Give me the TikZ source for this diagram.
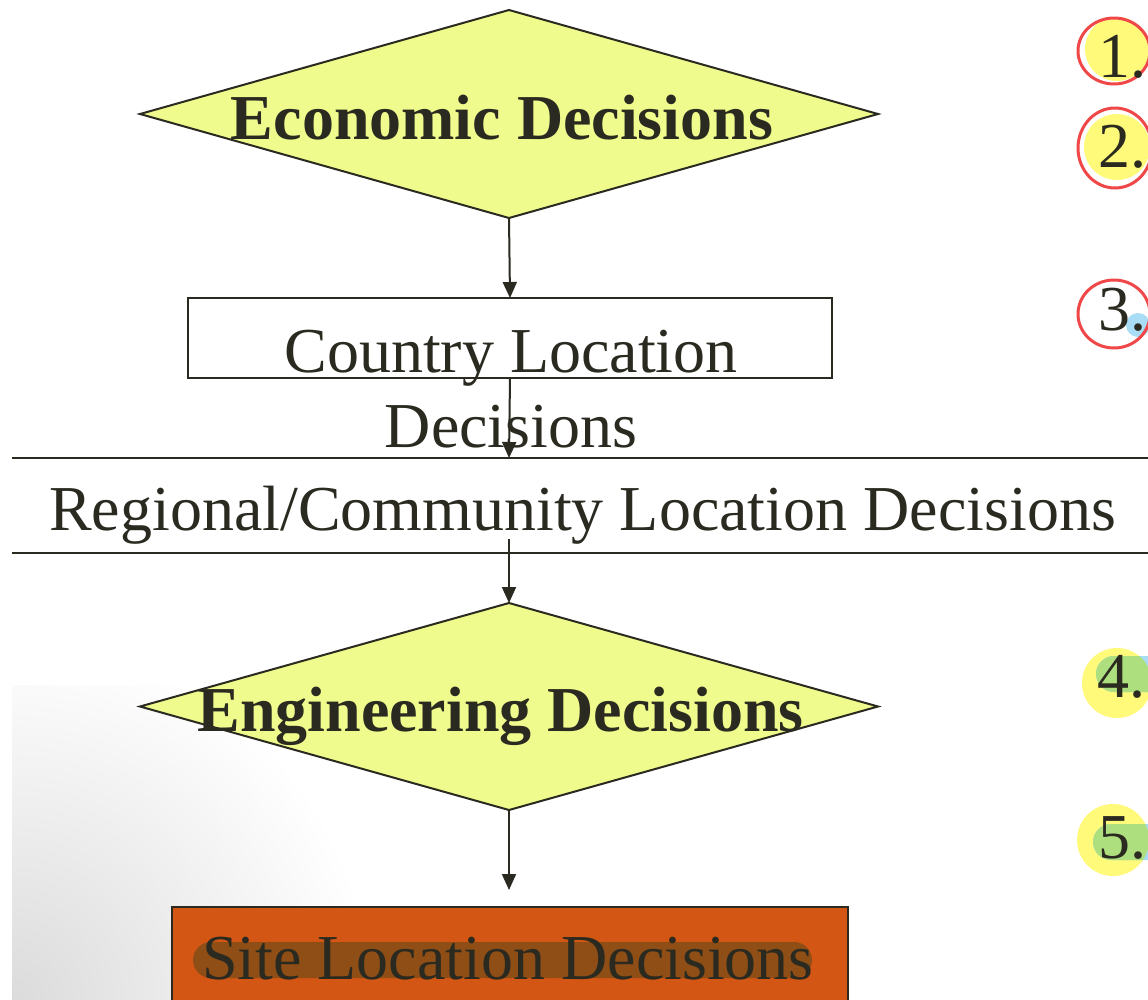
\documentclass[tikz,border=0pt]{standalone}
\usepackage{fontspec}
\setmainfont{Liberation Serif}
\usetikzlibrary{arrows.meta,shapes.geometric}

\definecolor{ink}{HTML}{2B2A20}
\definecolor{dfill}{HTML}{EFFB8D}
\definecolor{siteorange}{HTML}{D35614}
\definecolor{sitebar}{HTML}{8E4E16}
\definecolor{mkyellow}{HTML}{FFFA7A}
\definecolor{mkred}{HTML}{F04848}
\definecolor{mkblue}{HTML}{A8DDF5}
\definecolor{mkgreen}{HTML}{AEDF7E}

\begin{document}
\begin{tikzpicture}[x=1pt,y=-1pt,
  every node/.style={text=ink, inner sep=0pt, outer sep=0pt},
  big/.style={font=\fontsize{64}{75}\selectfont, anchor=base},
  bigbold/.style={font=\fontsize{64}{75}\selectfont\bfseries, anchor=base},
  marknum/.style={font=\fontsize{64}{75}\selectfont, anchor=base west},
  decision/.style={diamond, draw=ink, line width=2pt, fill=dfill,
    minimum width=738pt, minimum height=208pt},
  plainbox/.style={rectangle, draw=ink, line width=2pt, fill=white,
    minimum width=644pt, minimum height=80pt},
  sitebox/.style={rectangle, draw=ink, line width=2.5pt, fill=siteorange,
    minimum width=676pt, minimum height=110pt},
  flow/.style={draw=ink, line width=2pt, -{Triangle[width=14pt,length=16pt]}},
  band/.style={draw=ink, line width=2.5pt},
  ring/.style={draw=mkred, line width=3pt},
]
\useasboundingbox (0,0) rectangle (1148,999);
\fill[white] (0,0) rectangle (1148,999);

% soft grey corner shading
\begin{scope}
  \clip (12,685) rectangle (1148,999);
  \shade[inner color=black!14, outer color=white] (12,999) circle (360);
\end{scope}

% decisions
\node[decision] (econ) at (509,114) {};
\node[bigbold] (econtext) at (502,139) {Economic Decisions};

\node[plainbox] (country) at (510,338) {};
\node[big, align=center] (countrytext) at (511,447) {Country Location\\Decisions};

% regional band
\coordinate (bandtopL) at (12,458);
\coordinate (bandtopR) at (1148,458);
\coordinate (bandbotL) at (12,553);
\coordinate (bandbotR) at (1148,553);
\coordinate (bandin) at (509,458);
\coordinate (bandout) at (509,539);
\draw[band] (bandtopL) -- (bandtopR);
\draw[band] (bandbotL) -- (bandbotR);
\node[big] (regtext) at (582.5,530) {Regional/Community Location Decisions};

\node[decision, minimum height=207pt] (eng) at (509,706.5) {};
\node[bigbold] (engtext) at (500.5,731) {Engineering Decisions};

\coordinate (siteend) at (509,890);
\node[sitebox] (site) at (510,962) {};
\fill[sitebar, rounded corners=18pt] (193,942) rectangle (812,978);
\node[big] (sitetext) at (508,979) {Site Location Decisions};

% connectors
\draw[flow] (econ.south) -- (country.north);
\draw[flow] (country.south) -- (bandin);
\draw[flow] (bandout) -- (eng.north);
\draw[flow] (eng.south) -- (siteend);

% numbered markers on the right
\fill[mkyellow] (1117,49) circle (32);
\draw[ring] (1114,51) ellipse [x radius=36, y radius=33];
\node[marknum] (m1) at (1098,77) {1.};

\fill[mkyellow] (1117,147) circle (33);
\draw[ring] (1115,148) ellipse [x radius=37, y radius=40];
\node[marknum] (m2) at (1098,167) {2.};

\fill[mkblue] (1138,325) circle (12);
\draw[ring] (1114,314) ellipse [x radius=36, y radius=34];
\node[marknum] (m3) at (1098,330) {3.};

\fill[mkyellow] (1117,683) circle (35);
\fill[mkblue, rounded corners=18pt] (1096,656) rectangle (1170,692);
\begin{scope}
  \clip (1117,683) circle (35);
  \fill[mkgreen, rounded corners=18pt] (1096,656) rectangle (1170,692);
\end{scope}
\node[marknum] (m4) at (1097,697) {4.};

\fill[mkyellow] (1113,840) circle (36);
\fill[mkblue, rounded corners=18pt] (1093,824) rectangle (1170,860);
\begin{scope}
  \clip (1113,840) circle (36);
  \fill[mkgreen, rounded corners=18pt] (1093,824) rectangle (1170,860);
\end{scope}
\node[marknum] (m5) at (1098,858) {5.};
\end{tikzpicture}
\end{document}
